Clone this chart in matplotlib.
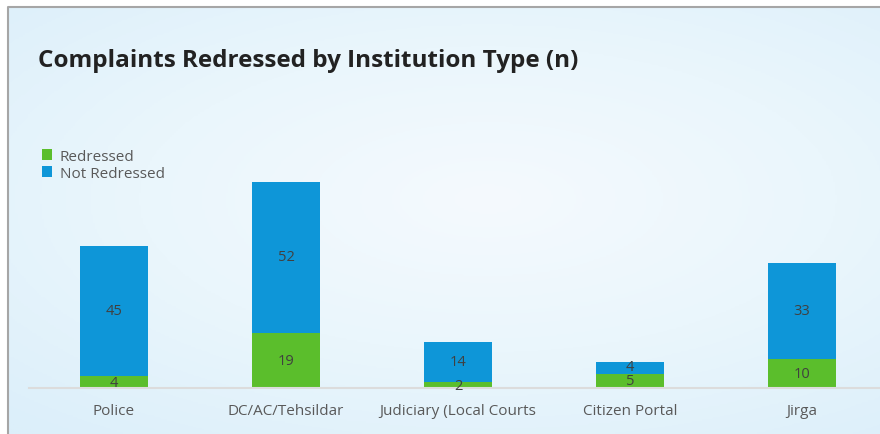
import numpy as np
import matplotlib.pyplot as plt
from matplotlib.lines import Line2D
from matplotlib.colors import LinearSegmentedColormap

# data
institutions = ['Police', 'DC/AC/Tehsildar', 'Judiciary (Local Courts', 'Citizen Portal', 'Jirga']
redressed = [4, 19, 2, 5, 10]
not_redressed = [45, 52, 14, 4, 33]

green = '#5BBE2C'
blue = '#0E96D8'
label_grey = '#595959'

W, H = 880, 435
fig = plt.figure(figsize=(W / 100, H / 100), dpi=100)
fig.patch.set_facecolor('white')

# light blue radial background inside the frame
bg = fig.add_axes([8 / W, 0, 1 - 8 / W, 1 - 8 / H], zorder=0)
yy, xx = np.mgrid[0:1:200j, 0:1:400j]
r = np.sqrt(((xx - 0.55) / 1.0) ** 2 + ((yy - 0.45) / 0.9) ** 2)
cmap = LinearSegmentedColormap.from_list('bgc', ['#F5FAFE', '#EAF6FC', '#DCEFFA'])
bg.imshow(r, cmap=cmap, aspect='auto', extent=[0, 1, 0, 1], origin='upper', vmin=0, vmax=0.8)
bg.set_xlim(0, 1)
bg.set_ylim(0, 1)
bg.axis('off')

# frame: only top and left edges are visible
fy = 1 - 8 / H
fx = 7.5 / W
fig.add_artist(Line2D([fx, fx, 1], [0, fy, fy], transform=fig.transFigure,
                      color='#A6A6A6', lw=1.5, zorder=1))

ax = fig.add_axes([29 / W, 46 / H, (W - 29) / W, 232 / H], zorder=2)
ax.patch.set_alpha(0)
x = np.arange(len(institutions))
ax.bar(x, redressed, width=0.395, color=green, label='Redressed')
ax.bar(x, not_redressed, width=0.395, bottom=redressed, color=blue, label='Not Redressed')

for i in range(len(x)):
    ax.text(x[i], redressed[i] / 2, str(redressed[i]), ha='center', va='center',
            fontsize=10.5, color='#404040', family='Open Sans')
    ax.text(x[i], redressed[i] + not_redressed[i] / 2 + 0.3, str(not_redressed[i]), ha='center', va='center',
            fontsize=10.5, color='#404040', family='Open Sans')

ax.set_xlim(-0.494, 4.453)
ax.set_ylim(0, 80)
ax.set_yticks([])
ax.set_xticks(x)
ax.set_xticklabels(institutions, fontsize=11, color=label_grey, family='Open Sans')
ax.tick_params(axis='x', length=0, pad=11)
for s in ['top', 'right', 'left']:
    ax.spines[s].set_visible(False)
ax.spines['bottom'].set_color('#DCDCDC')
ax.spines['bottom'].set_linewidth(1.5)

ax.legend(loc='upper left', bbox_to_anchor=(34 / W, 1 - 142 / H), bbox_transform=fig.transFigure,
          frameon=False, prop={'family': 'Open Sans', 'size': 11}, labelcolor=label_grey,
          handlelength=0.7, handleheight=0.7, handletextpad=0.5, labelspacing=0.15, borderpad=0)

fig.text(38 / W, 1 - 61 / H, 'Complaints Redressed by Institution Type (n)', fontsize=17.5,
         fontweight='bold', color='#222222', family='Open Sans', va='center', ha='left')

fig.savefig('out.png', dpi=100)
